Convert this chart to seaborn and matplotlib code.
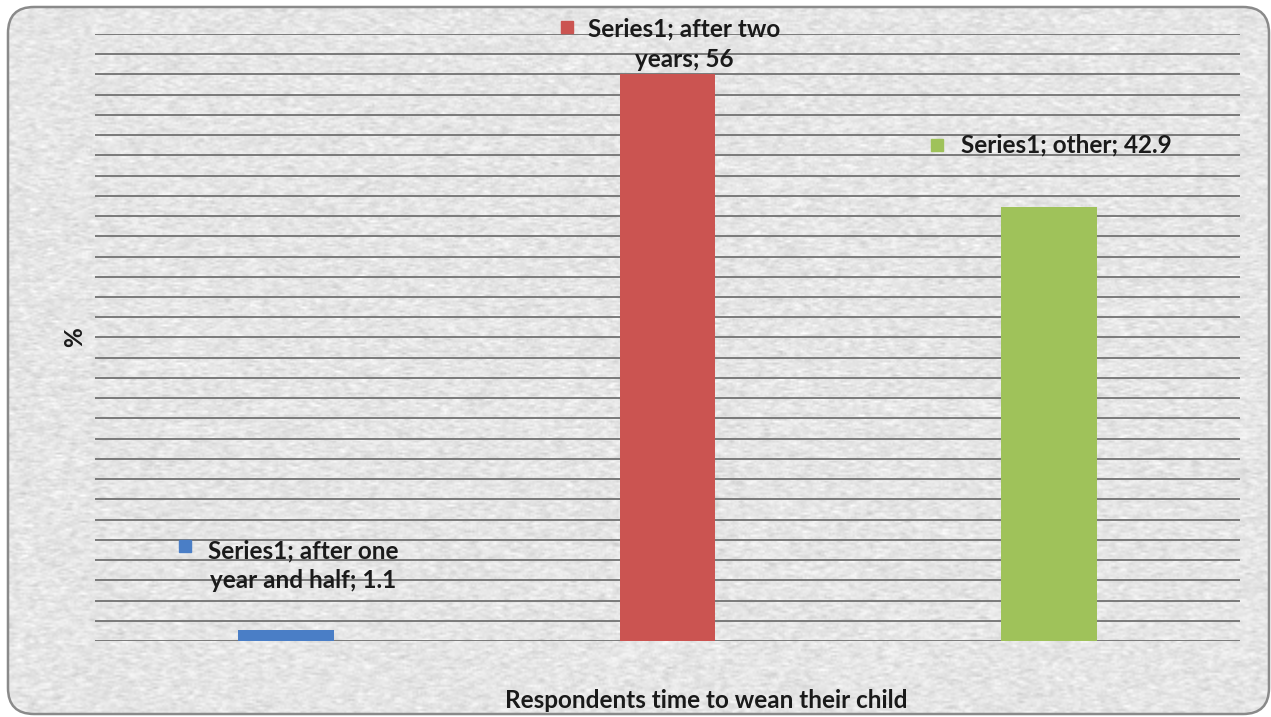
import numpy as np
import pandas as pd
import matplotlib
matplotlib.use("Agg")
import matplotlib.pyplot as plt
from matplotlib.patches import FancyBboxPatch
import matplotlib.transforms as mtransforms
import seaborn as sns

categories = ["after one year and half", "after two years", "other"]
values = [1.1, 56, 42.9]
label_texts = ["Series1; after one\nyear and half; 1.1",
               "Series1; after two\nyears; 56",
               "Series1; other; 42.9"]
colors = ["#4a7ec6", "#cb5451", "#9fc25a"]
x_title = "Respondents time to wean their child"
y_title = "%"

W, H = 1271, 717
fig = plt.figure(figsize=(W / 100, H / 100), dpi=100, facecolor="white")

# background with rounded border and light stone-like texture
bg = fig.add_axes([0, 0, 1, 1], zorder=-5)
bg.set_xlim(0, W)
bg.set_ylim(0, H)
bg.axis("off")
rng = np.random.default_rng(3)
noise = rng.normal(0, 1, (H // 2, W // 2))
k = np.ones(3) / 3
noise = np.apply_along_axis(lambda r: np.convolve(r, k, mode="same"), 1, noise)
tex = 0.90 + 0.05 * noise
tex = np.clip(tex, 0.72, 1.0)
img = bg.imshow(tex, cmap="gray", vmin=0, vmax=1, extent=(0, W, 0, H),
                aspect="auto", interpolation="bilinear", zorder=0)
frame = FancyBboxPatch((8, 3), W - 10, H - 10,
                       boxstyle="round,pad=0,rounding_size=26",
                       facecolor="none", edgecolor="#8a8a8a", lw=1.8, zorder=2)
bg.add_patch(frame)
img.set_clip_path(frame)

left, right, top, bottom = 95, 1240, 34, 641
ax = fig.add_axes([left / W, 1 - bottom / H, (right - left) / W, (bottom - top) / H])
ax.patch.set_alpha(0)

df = pd.DataFrame({"cat": categories, "val": values})
sns.barplot(data=df, x="cat", y="val", hue="cat", palette=colors,
            width=0.25, legend=False, ax=ax, saturation=1, zorder=3)

ax.set_ylim(0, 60)
ax.set_xlim(-0.5, 2.5)
ax.set_yticks(np.arange(0, 61, 2))
ax.yaxis.grid(True, color="#7a7a7a", lw=1.4, zorder=1)
ax.set_axisbelow(True)
ax.tick_params(length=0, labelleft=False, labelbottom=False)
for s in ax.spines.values():
    s.set_visible(False)
ax.set_xlabel("")
ax.set_ylabel("")

font = "Lato"
fs = 17.5
fig.text(706 / W, 1 - 701 / H, x_title, ha="center", va="center",
         fontsize=fs, fontweight="bold", family=font, color="#1a1a1a")
fig.text(75 / W, 1 - 337 / H, y_title, ha="center", va="center", rotation=90,
         fontsize=fs, fontweight="bold", family=font, color="#1a1a1a")

# data labels: (text dx, text dy, square dx, square dy) in pixels from bar top
offsets = [(17, 64, -101, 84), (17, 30, -101, 47), (17, 62, -112, 62)]
for i, (v, t, c, (tdx, tdy, sdx, sdy)) in enumerate(zip(values, label_texts, colors, offsets)):
    ax.annotate(t, xy=(i, v), xytext=(tdx, tdy), textcoords="offset pixels",
                ha="center", va="center", multialignment="center",
                fontsize=fs, fontweight="bold", family=font, color="#1a1a1a",
                linespacing=1.38, zorder=6, annotation_clip=False)
    ax.plot([i], [v], marker="s", ms=8, color=c, ls="none", clip_on=False,
            transform=ax.transData + mtransforms.ScaledTranslation(
                sdx / 100, sdy / 100, fig.dpi_scale_trans), zorder=6)

fig.savefig("out.png", dpi=100, facecolor="white")
